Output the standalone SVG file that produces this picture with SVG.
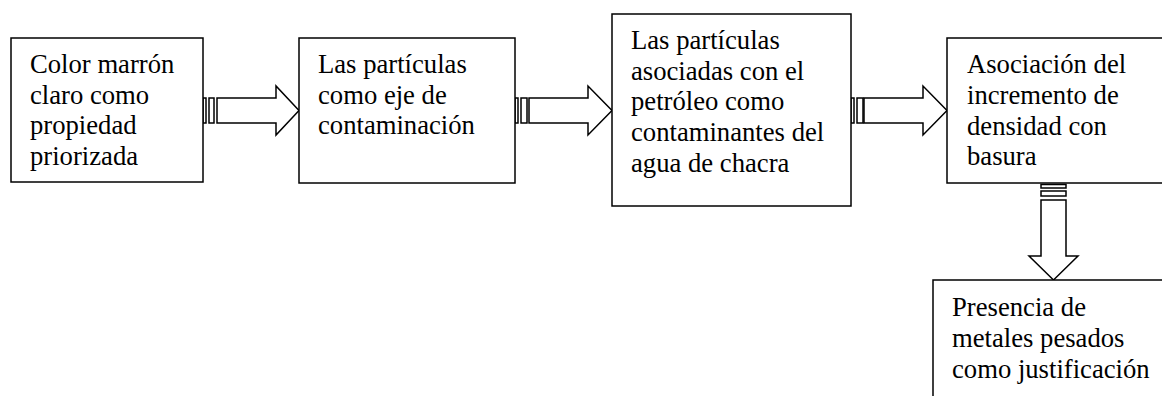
<svg xmlns="http://www.w3.org/2000/svg" width="1162" height="396" viewBox="0 0 1162 396">
<style>
.box{fill:#fff;stroke:#000;stroke-width:1.5}
.arr{fill:#fff;stroke:#000;stroke-width:1.5;stroke-linejoin:miter}
text{font-family:"Liberation Serif","Times New Roman",serif;font-size:26.67px;fill:#000}
</style>
<rect width="1162" height="396" fill="#fff"/>
<g id="connectors">
<g id="arrow1">
<rect class="arr" x="203" y="98" width="3" height="25"/>
<rect class="arr" x="209" y="98" width="5" height="25"/>
<polygon class="arr" points="217,98 276,98 276,86 299,110.5 276,135 276,123 217,123"/>
</g>
<g id="arrow2">
<rect class="arr" x="515" y="98" width="3" height="25"/>
<rect class="arr" x="521" y="98" width="6" height="25"/>
<polygon class="arr" points="529,98 588,98 588,86 612,110.5 588,135 588,123 529,123"/>
</g>
<g id="arrow3">
<rect class="arr" x="851" y="98" width="3" height="25"/>
<rect class="arr" x="857" y="98" width="6" height="25"/>
<polygon class="arr" points="864,98 923,98 923,86 947,110.5 923,135 923,123 864,123"/>
</g>
<g id="arrow4">
<rect class="arr" x="1041" y="184.5" width="25" height="3.5"/>
<rect class="arr" x="1041" y="191" width="25" height="5"/>
<polygon class="arr" points="1041,200 1066,200 1066,256 1078,256 1053.5,280 1029,256 1041,256"/>
</g>
</g>
<g id="node1">
<rect class="box" x="11" y="38" width="192" height="144"/>
<text x="30" y="73">Color marrón</text>
<text x="30" y="104">claro como</text>
<text x="30" y="134">propiedad</text>
<text x="30" y="165">priorizada</text>
</g>
<g id="node2">
<rect class="box" x="299" y="38" width="216" height="145"/>
<text x="318" y="73">Las partículas</text>
<text x="318" y="104">como eje de</text>
<text x="318" y="134">contaminación</text>
</g>
<g id="node3">
<rect class="box" x="612" y="14" width="239" height="192"/>
<text x="631" y="49">Las partículas</text>
<text x="631" y="80">asociadas con el</text>
<text x="631" y="110">petróleo como</text>
<text x="631" y="141">contaminantes del</text>
<text x="631" y="172">agua de chacra</text>
</g>
<g id="node4">
<rect class="box" x="947" y="38" width="225" height="145"/>
<text x="967" y="73">Asociación del</text>
<text x="967" y="104">incremento de</text>
<text x="967" y="135">densidad con</text>
<text x="967" y="165">basura</text>
</g>
<g id="node5">
<rect class="box" x="933" y="280" width="240" height="130"/>
<text x="952" y="316">Presencia de</text>
<text x="952" y="347">metales pesados</text>
<text x="952" y="378">como justificación</text>
</g>
</svg>
